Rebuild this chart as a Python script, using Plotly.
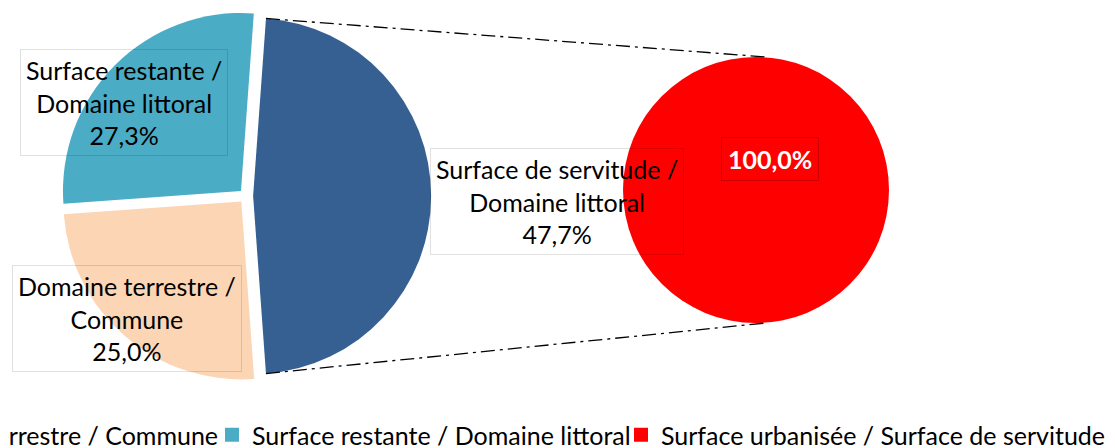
import math
import plotly.graph_objects as go

W, H = 1115, 448
OFF = 8  # page body margin of the exported html

# ---- data ----
main_labels = ["Surface de servitude / Domaine littoral",
               "Domaine terrestre / Commune",
               "Surface restante / Domaine littoral"]
main_values = [47.7, 25.0, 27.3]
main_colors = ["#376092", "#FCD5B5", "#4BACC6"]

sub_labels = ["Surface urbanisée / Surface de servitude"]
sub_values = [100.0]
sub_colors = ["#FF0000"]

FONT = "Lato"
FS = 25

# ---- geometry (screen pixels) ----
C1 = (246, 196)
R1 = 178
PULL = 0.04
C2 = (756, 190)
R2 = 133


def fx(px):
    return (px - OFF) / W


def fy(py):
    return 1 - (py - OFF) / H


def domain(cx, cy, r, pull=0.0):
    half = r * (1 + pull)
    return dict(x=[fx(cx - half), fx(cx + half)],
                y=[fy(cy + half), fy(cy - half)])


def pct(v):
    return f"{v:.1f}".replace(".", ",") + "%"


total = sum(main_values)
rot = 90 - 180 * main_values[0] / total

fig = go.Figure()
fig.add_trace(go.Pie(
    labels=main_labels, values=main_values, sort=False, direction="clockwise",
    rotation=rot, pull=[PULL] * len(main_values),
    marker=dict(colors=main_colors, line=dict(width=0)),
    textinfo="none", hoverinfo="skip", showlegend=False,
    domain=domain(C1[0], C1[1], R1, PULL)))
fig.add_trace(go.Pie(
    labels=sub_labels, values=sub_values, sort=False,
    marker=dict(colors=sub_colors, line=dict(width=0)),
    textinfo="none", hoverinfo="skip", showlegend=False,
    domain=domain(C2[0], C2[1], R2)))

# legend entries
legend_items = [
    (main_labels[1], main_colors[1], "legend", None),
    (main_labels[2], main_colors[2], "legend2", 364),
    (sub_labels[0], sub_colors[0], "legend2", None),
]
for name, col, leg, lw in legend_items:
    fig.add_trace(go.Scatter(
        x=[None], y=[None], mode="markers", name=name,
        marker=dict(symbol="square", size=14, color=col),
        legend=leg, legendwidth=lw, hoverinfo="skip", showlegend=True))

# connector lines (from the exploded slice edges to the secondary pie)
a_mid = math.radians(rot + 180 * main_values[0] / total)
vx = C1[0] + PULL * R1 * math.sin(a_mid)
vy = C1[1] - PULL * R1 * math.cos(a_mid)
shapes = []
for ang, ty in [(rot, C2[1] - R2), (rot + 360 * main_values[0] / total, C2[1] + R2)]:
    a = math.radians(ang)
    px = vx + R1 * math.sin(a)
    py = vy - R1 * math.cos(a)
    shapes.append(dict(type="line", xref="paper", yref="paper",
                       x0=fx(px), y0=fy(py), x1=fx(C2[0] + 10), y1=fy(ty),
                       line=dict(color="black", width=1.3, dash="14px,5px,3px,5px")))

# data labels
label_pos = {main_labels[0]: (557, 201), main_labels[1]: (127, 318),
             main_labels[2]: (124, 103)}
annotations = []
for lab, val in zip(main_labels, main_values):
    x, y = label_pos[lab]
    annotations.append(dict(
        x=fx(x), y=fy(y), xref="paper", yref="paper", showarrow=False,
        xanchor="center", yanchor="middle",
        text=lab.replace(" / ", " /<br>") + "<br>" + pct(val),
        font=dict(family=FONT, size=FS, color="black"), align="center",
        bgcolor="rgba(0,0,0,0)", bordercolor="rgba(0,0,0,0.12)", borderwidth=1,
        borderpad=5))
annotations.append(dict(
    x=fx(770), y=fy(159), xref="paper", yref="paper", showarrow=False,
    xanchor="center", yanchor="middle",
    text="<b>" + pct(sub_values[0]) + "</b>",
    font=dict(family=FONT, size=FS, color="white"),
    bgcolor=sub_colors[0], bordercolor="rgba(0,0,0,0.2)", borderwidth=1, borderpad=6))

legend_common = dict(orientation="h", font=dict(family=FONT, size=FS, color="black"),
                     bgcolor="rgba(0,0,0,0)", borderwidth=0, yanchor="middle",
                     y=fy(435))

fig.update_layout(
    width=W, height=H, margin=dict(l=0, r=0, t=0, b=0, autoexpand=False),
    paper_bgcolor="white", plot_bgcolor="white",
    xaxis=dict(visible=False), yaxis=dict(visible=False),
    shapes=shapes, annotations=annotations,
    legend=dict(**legend_common, x=fx(224), xanchor="right"),
    legend2=dict(**legend_common, x=fx(212), xanchor="left"),
    hovermode=False,
)

fig.write_html("out.html")
